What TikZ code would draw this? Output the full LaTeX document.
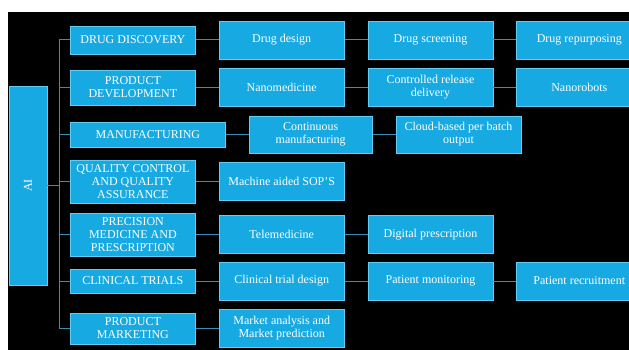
\documentclass[tikz,border=0pt]{standalone}
\usepackage{fontspec}
\setmainfont{Liberation Serif}
\usepackage{tikz}
\usetikzlibrary{positioning}

\definecolor{boxfill}{HTML}{17A9E1}
\definecolor{boxedge}{HTML}{62CDF2}
\definecolor{linkcol}{HTML}{3A8DB5}

\begin{document}
\begin{tikzpicture}[x=1pt, y=-1pt,
        node distance=23pt,
        area/.style={rectangle, draw=boxedge, line width=0.8pt, fill=boxfill, text=white, align=center, minimum width=125pt, inner sep=1pt, font=\fontsize{12}{13}\selectfont},
        task/.style={area, minimum height=38pt},
        link/.style={draw=linkcol, line width=1pt}
    ]

    % Background
    \useasboundingbox (0,0) rectangle (629,350);
    \fill[white] (0,0) rectangle (629,350);
    \fill[black] (8,12) rectangle (629,350);

    % Root
    \node[area, rotate=90, minimum width=199pt, minimum height=38pt] (ai) at (28,185.5) {AI};

    % Application areas
    \node[area, anchor=west, minimum height=28pt] (dd) at (70,40) {DRUG DISCOVERY};
    \node[area, anchor=west, minimum height=35pt] (pd) at (70,87.5) {PRODUCT\\DEVELOPMENT};
    \node[area, anchor=west, minimum height=25pt, minimum width=155pt] (mf) at (70,134.5) {MANUFACTURING};
    \node[area, anchor=west, minimum height=43pt] (qc) at (70,181.5) {QUALITY CONTROL\\AND QUALITY\\ASSURANCE};
    \node[area, anchor=west, minimum height=43pt] (pm) at (70,234.5) {PRECISION\\MEDICINE AND\\PRESCRIPTION};
    \node[area, anchor=west, minimum height=24pt] (ct) at (70,281) {CLINICAL TRIALS};
    \node[area, anchor=west, minimum height=31pt] (pmk) at (70,328.5) {PRODUCT\\MARKETING};

    % Drug discovery
    \node[task, right=of dd] (design) {Drug design};
    \node[task, right=of design] (screen) {Drug screening};
    \node[task, right=of screen] (repurp) {Drug repurposing};

    % Product development
    \node[task, right=of pd] (nano) {Nanomedicine};
    \node[task, right=of nano] (crd) {Controlled release\\delivery};
    \node[task, right=of crd] (robots) {Nanorobots};

    % Manufacturing
    \node[task, right=of mf, minimum width=123pt, minimum height=37pt] (cont) {Continuous\\manufacturing};
    \node[task, right=of cont, minimum height=37pt] (cloud) {Cloud-based per batch\\output};

    % Quality control
    \node[task, right=of qc] (sop) {Machine aided SOP'S};

    % Precision medicine
    \node[task, right=of pm] (tele) {Telemedicine};
    \node[task, right=of tele] (digi) {Digital prescription};

    % Clinical trials
    \node[task, right=of ct] (ctd) {Clinical trial design};
    \node[task, right=of ctd] (pmon) {Patient monitoring};
    \node[task, right=of pmon] (prec) {Patient recruitment};

    % Product marketing
    \node[task, right=of pmk] (market) {Market analysis and\\Market prediction};

    % Links: root to areas
    \coordinate (trunk) at (59,0);
    \draw[link] (dd.west -| trunk) -- (pmk.west -| trunk);
    \draw[link] (ai.south) -- (ai.south -| trunk);
    \foreach \n in {dd,pd,mf,qc,pm,ct,pmk}
        \draw[link] (\n.west) -- (\n.west -| trunk);

    % Links: areas to tasks
    \draw[link] (dd) -- (design); \draw[link] (design) -- (screen); \draw[link] (screen) -- (repurp);
    \draw[link] (pd) -- (nano); \draw[link] (nano) -- (crd); \draw[link] (crd) -- (robots);
    \draw[link] (mf) -- (cont); \draw[link] (cont) -- (cloud);
    \draw[link] (qc) -- (sop);
    \draw[link] (pm) -- (tele); \draw[link] (tele) -- (digi);
    \draw[link] (ct) -- (ctd); \draw[link] (ctd) -- (pmon); \draw[link] (pmon) -- (prec);
    \draw[link] (pmk) -- (market);

\end{tikzpicture}
\end{document}
